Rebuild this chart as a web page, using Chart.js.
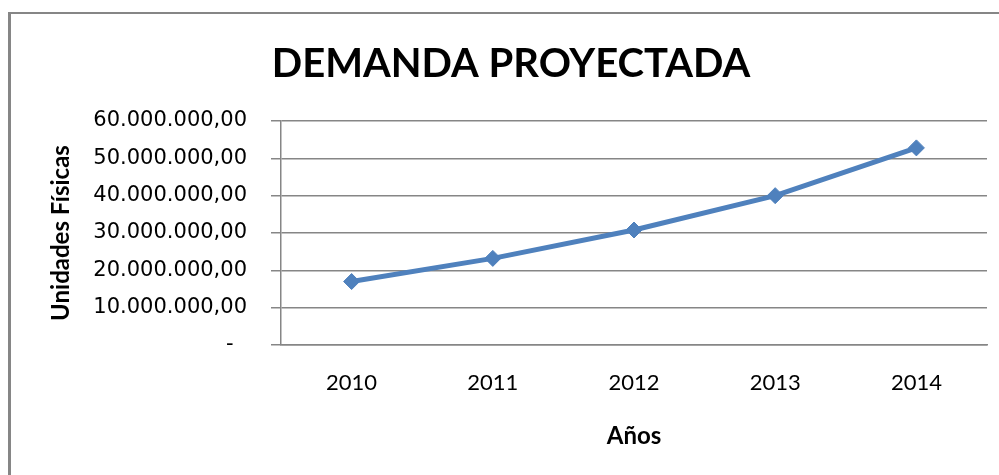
<!DOCTYPE html>
<html lang="es">
<head>
  <meta charset="UTF-8">
  <title>Demanda Proyectada</title>
  <script src="https://cdn.jsdelivr.net/npm/chart.js"></script>
  <style>
    body { margin: 0; background: #fff; }
    canvas { display: block; }
  </style>
</head>
<body>
  <canvas id="demandChart" width="999" height="475"></canvas>
  <script>
    const years = ['2010', '2011', '2012', '2013', '2014'];
    const demand = [17000000, 23200000, 30800000, 40000000, 52800000];
    const yTicks = [0, 10000000, 20000000, 30000000, 40000000, 50000000, 60000000];

    const textFont = 'Lato, "Liberation Sans", sans-serif';
    const gridGray = '#868686';

    function formatNumber(v) {
      if (v === 0) return '-  ';
      const parts = Math.round(v).toString().replace(/\B(?=(\d{3})+(?!\d))/g, '.');
      return parts + ',00';
    }

    const frame = {
      id: 'frame',
      beforeDraw(chart) {
        const c = chart.ctx;
        c.save();
        c.fillStyle = '#fff';
        c.fillRect(0, 0, chart.width, chart.height);
        c.fillStyle = gridGray;
        c.fillRect(8, 12, 3, chart.height);
        c.fillRect(8, 12, chart.width, 2);
        c.restore();
      }
    };

    const ctx = document.getElementById('demandChart').getContext('2d');
    new Chart(ctx, {
      type: 'line',
      data: {
        labels: years,
        datasets: [{
          label: 'Demanda',
          data: demand,
          borderColor: '#4F81BD',
          backgroundColor: '#4F81BD',
          borderWidth: 5,
          pointStyle: 'rectRot',
          pointRadius: 8,
          pointBorderWidth: 1,
          tension: 0
        }]
      },
      options: {
        responsive: false,
        animation: false,
        layout: { padding: { left: 35, right: 12, top: 0, bottom: 0 } },
        plugins: {
          legend: { display: false },
          tooltip: { enabled: false },
          title: {
            display: true,
            text: 'DEMANDA PROYECTADA',
            color: '#000',
            font: { family: textFont, size: 40, weight: 'bold' },
            padding: { top: 40, bottom: 33 }
          }
        },
        scales: {
          x: {
            offset: true,
            grid: { display: false, drawTicks: false, tickLength: 0 },
            border: { display: true, color: gridGray, width: 1.5 },
            ticks: {
              color: '#000',
              padding: 25,
              font: { family: textFont, size: 22 }
            },
            title: {
              display: true,
              text: 'Años',
              color: '#000',
              font: { family: textFont, size: 24, weight: 'bold' },
              padding: { top: 0, bottom: 24 }
            },
            afterFit(scale) { scale.height = 130; }
          },
          y: {
            min: 0,
            max: 60000000,
            afterBuildTicks(scale) { scale.ticks = yTicks.map(v => ({ value: v })); },
            grid: { color: gridGray, lineWidth: 1.5, tickLength: 10 },
            border: { display: true, color: gridGray, width: 1.5 },
            ticks: {
              color: '#000',
              padding: 24,
              font: { family: '"DejaVu Sans", Verdana, sans-serif', size: 21 },
              callback: v => formatNumber(v)
            },
            title: {
              display: true,
              text: 'Unidades Físicas',
              color: '#000',
              font: { family: textFont, size: 24, weight: 'bold' },
              padding: { top: 12, bottom: 0 }
            },
            afterFit(scale) { scale.width = 246; }
          }
        }
      },
      plugins: [frame]
    });
  </script>
</body>
</html>
